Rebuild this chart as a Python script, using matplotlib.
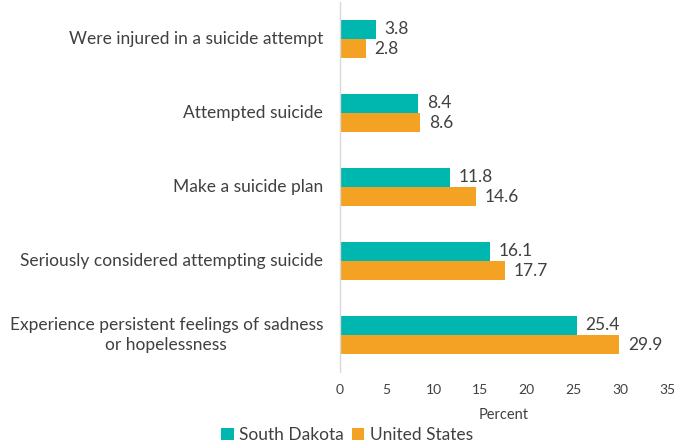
import matplotlib
matplotlib.use("Agg")
import matplotlib.pyplot as plt
import matplotlib.transforms as mtransforms
import numpy as np

plt.rcParams['font.family'] = ['Lato', 'DejaVu Sans']

categories = [
    "Were injured in a suicide attempt",
    "Attempted suicide",
    "Make a suicide plan",
    "Seriously considered attempting suicide",
    "Experience persistent feelings of sadness\nor hopelessness",
]
south_dakota = [3.8, 8.4, 11.8, 16.1, 25.4]
united_states = [2.8, 8.6, 14.6, 17.7, 29.9]
series_names = ["South Dakota", "United States"]
x_ticks = [0, 5, 10, 15, 20, 25, 30, 35]

teal = "#00B7B0"
orange = "#F4A223"
text_color = "#404040"

fig = plt.figure(figsize=(6.74, 4.47), dpi=100)
ax = fig.add_axes([340 / 674, 75 / 447, (667 - 340) / 674, 370 / 447])

y = np.arange(len(categories))
h = 0.26
b1 = ax.barh(y - h / 2, south_dakota, height=h, color=teal, label=series_names[0])
b2 = ax.barh(y + h / 2, united_states, height=h, color=orange, label=series_names[1])

for bars, vals in ((b1, south_dakota), (b2, united_states)):
    for rect, v in zip(bars, vals):
        ax.text(v + 0.9, rect.get_y() + rect.get_height() / 2, f"{v:.1f}",
                va="center", ha="left", fontsize=12.5, color=text_color)

ax.set_ylim(len(categories) - 0.5, -0.5)
ax.set_xlim(0, 35)
ax.set_yticks(y)
ax.set_yticklabels([])
ax.tick_params(axis="y", length=0)

# category labels, right-aligned against the axis, wrapped lines centred
label_tr = mtransforms.blended_transform_factory(fig.transFigure, ax.transData)
for yi, cat in zip(y, categories):
    ax.text(323 / 674, yi, cat, transform=label_tr, ha="right", va="center",
            multialignment="center", fontsize=12.5, color=text_color,
            linespacing=1.25, clip_on=False)

ax.set_xticks(x_ticks)
ax.tick_params(axis="x", length=0, labelsize=10, labelcolor=text_color, pad=9)
ax.set_xlabel("Percent", fontsize=10.5, color=text_color, labelpad=8)

for s in ("top", "right", "bottom"):
    ax.spines[s].set_visible(False)
ax.spines["left"].set_color("#D9D9D9")
ax.spines["left"].set_linewidth(1.0)

fig.legend(handles=[b1, b2], labels=series_names, loc="center",
           bbox_to_anchor=(347 / 674, 1 - 435 / 447), ncol=2, frameon=False,
           fontsize=12.5, handlelength=0.7, handleheight=0.7, handletextpad=0.3,
           columnspacing=0.5, labelcolor=text_color)

fig.savefig("out.png", dpi=100)
